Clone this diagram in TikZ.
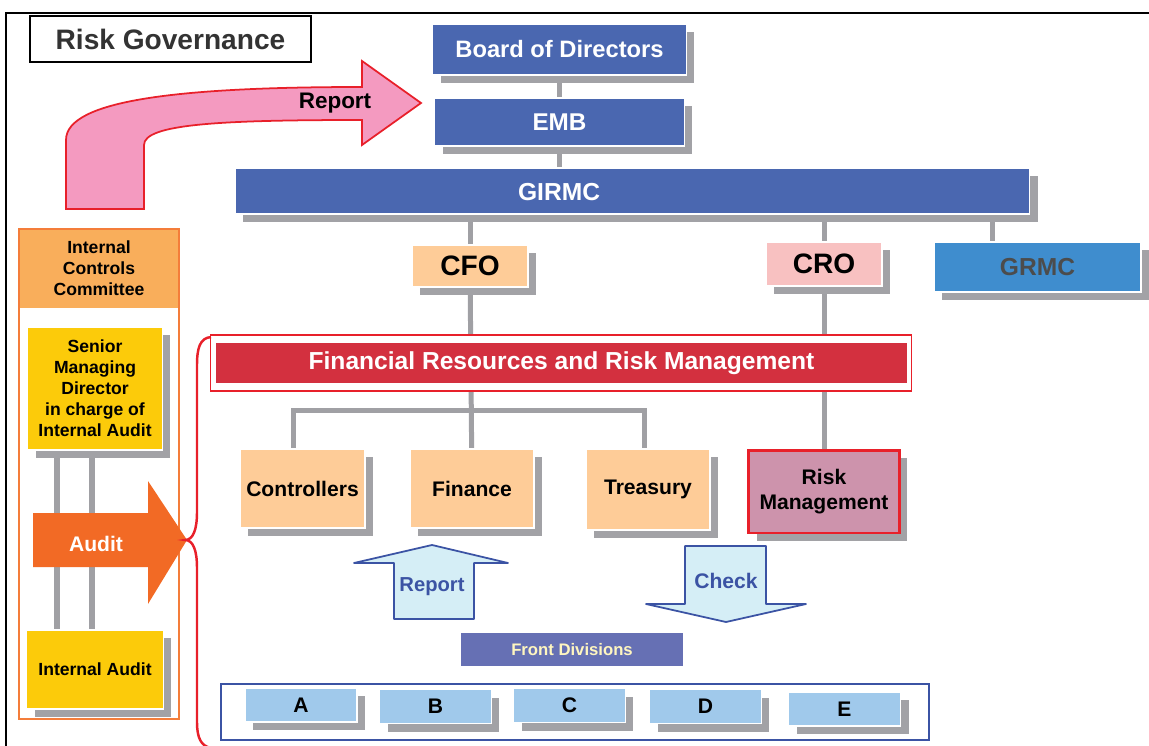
\documentclass[tikz,border=0pt]{standalone}
\usepackage{fontspec}
\setmainfont{Liberation Sans}
\usepackage{xcolor}
\usepackage{tikz}
\usetikzlibrary{shadows}
\definecolor{boardcolor}{HTML}{4A67B0}
\definecolor{shadowgray}{HTML}{A2A2A6}
\definecolor{linegray}{HTML}{A0A0A4}
\definecolor{cfocolor}{HTML}{FECC98}
\definecolor{crocolor}{HTML}{F8C1C1}
\definecolor{grmccolor}{HTML}{3F8DCE}
\definecolor{fincolor}{HTML}{D3303F}
\definecolor{riskred}{HTML}{E8202A}
\definecolor{rmcolor}{HTML}{CD93AC}
\definecolor{icccolor}{HTML}{F9AE5B}
\definecolor{iccedge}{HTML}{F47D3A}
\definecolor{auditcolor}{HTML}{FCCB0A}
\definecolor{arrowcolor}{HTML}{F26A25}
\definecolor{reportpink}{HTML}{F49AC0}
\definecolor{flowfill}{HTML}{D5EEF6}
\definecolor{flowblue}{HTML}{3B53A4}
\definecolor{frontcolor}{HTML}{6670B4}
\definecolor{fronttext}{HTML}{FFF6C0}
\definecolor{divcolor}{HTML}{A0C9EB}

\pgfdeclarelayer{bg}
\pgfsetlayers{bg,main}

\tikzset{
  orgbox/.style={rectangle, draw=white, line width=0.6pt, inner sep=0pt, outer sep=0pt, align=center,
    drop shadow={shadow xshift=0.16cm, shadow yshift=-0.16cm, fill=shadowgray, opacity=1}},
  plainbox/.style={rectangle, inner sep=0pt, outer sep=0pt, align=center},
  bluebox/.style={orgbox, fill=boardcolor, text=white},
  unitbox/.style={orgbox, fill=cfocolor, minimum width=2.48cm, minimum height=1.58cm,
    font=\bfseries\fontsize{12}{14}\selectfont},
  leftbox/.style={orgbox, fill=auditcolor, font=\bfseries\fontsize{10}{11.9}\selectfont},
  divbox/.style={orgbox, fill=divcolor, minimum width=2.24cm, minimum height=0.68cm,
    font=\bfseries\fontsize{12}{14}\selectfont},
  conn/.style={draw=linegray, line width=0.1cm},
  flowarrow/.style={fill=flowfill, draw=flowblue, line width=1pt, line join=round},
}

\begin{document}
\begin{tikzpicture}[x=0.02cm, y=-0.02cm]
\useasboundingbox (0,0) rectangle (1149,746);

% frame and title
\draw[line width=1.1pt] (6,746) -- (6,13) -- (1149,13);
\node[plainbox, draw=black, line width=1pt, minimum width=5.62cm, minimum height=0.92cm, text=black!80,
  font=\bfseries\fontsize{16}{19}\selectfont] (title) at (170.5,39) {Risk Governance};

% board, EMB and GIRMC
\node[bluebox, minimum width=5.08cm, minimum height=1.02cm, font=\bfseries\fontsize{13.5}{16}\selectfont] (board) at (559.5,49.5) {Board of Directors};
\node[bluebox, minimum width=5.0cm, minimum height=0.96cm, font=\bfseries\fontsize{13.8}{16}\selectfont] (emb) at (559.5,122) {EMB};
\node[bluebox, minimum width=15.9cm, minimum height=0.92cm,
  label={[text=white, font=\bfseries\fontsize{14}{16}\selectfont, xshift=-1.47cm, yshift=-0.03cm]center:GIRMC}] (girmc) at (632.5,191) {};

% CFO, CRO, GRMC
\node[orgbox, fill=cfocolor, minimum width=2.32cm, minimum height=0.84cm, font=\bfseries\fontsize{16}{19}\selectfont] (cfo) at (470,266) {CFO};
\node[orgbox, fill=crocolor, minimum width=2.32cm, minimum height=0.88cm, font=\bfseries\fontsize{16}{19}\selectfont] (cro) at (824,264) {CRO};
\node[orgbox, fill=grmccolor, text=black!70, minimum width=4.14cm, minimum height=1.0cm, font=\bfseries\fontsize{14}{16}\selectfont] (grmc) at (1037.5,267) {GRMC};

% financial resources band
\node[plainbox, draw=riskred, fill=white, line width=0.6pt, minimum width=14.04cm, minimum height=1.12cm] (finframe) at (561,363) {};
\node[plainbox, fill=fincolor, text=white, minimum width=13.82cm, minimum height=0.8cm,
  font=\bfseries\fontsize{14}{16}\selectfont] (finband) at (561.5,363) {Financial Resources and Risk Management};

% units
\node[unitbox, minimum width=2.5cm] (controllers) at (302.5,488.5) {Controllers};
\node[unitbox] (finance) at (472,488.5) {Finance};
\node[unitbox, minimum height=1.62cm] (treasury) at (648,489.5) {Treasury};
\node[orgbox, fill=rmcolor, draw=riskred, line width=1.7pt, minimum width=3.02cm, minimum height=1.66cm,
  font=\bfseries\fontsize{12}{14}\selectfont] (riskmgmt) at (824,491.5) {Risk\\Management};

% internal controls panel
\node[plainbox, fill=icccolor, minimum width=3.2cm, minimum height=1.58cm,
  font=\bfseries\fontsize{10}{11.9}\selectfont] (icchead) at (99,268.5) {Internal\\Controls\\Committee};
\node[plainbox, draw=iccedge, line width=0.8pt, minimum width=3.2cm, minimum height=9.8cm] (iccpanel) at (99,474) {};
\node[leftbox, minimum width=2.7cm, minimum height=2.46cm] (senior) at (95,388.5) {Senior\\Managing\\Director\\in charge of\\Internal Audit};
\node[leftbox, minimum width=2.74cm, minimum height=1.58cm] (intaudit) at (95,669.5) {Internal Audit};

% front divisions
\node[plainbox, fill=frontcolor, text=fronttext, minimum width=4.44cm, minimum height=0.66cm,
  font=\bfseries\fontsize{9.5}{11}\selectfont] (frontdiv) at (572,649.5) {Front Divisions};
\node[plainbox, draw=flowblue, line width=0.8pt, minimum width=14.16cm, minimum height=1.12cm] (divpanel) at (575,712) {};
\foreach \name/\x/\y in {A/301/705, B/435.5/706.5, C/569.5/705.5, D/705.5/706.5, E/844.5/709}
  \node[divbox] (div\name) at (\x,\y) {\name};

% connectors
\coordinate (grmctap) at ([xshift=-0.91cm]grmc.north);
\coordinate (split) at (472,410);
\begin{pgfonlayer}{bg}
\draw[conn] (board) -- (emb);
\draw[conn] (emb) -- (emb |- girmc);
\draw[conn] (cfo) -- (cfo |- girmc);
\draw[conn] (cro) -- (cro |- girmc);
\draw[conn] (grmctap) -- (grmctap |- girmc);
\draw[conn] (cfo) -- (finance);
\draw[conn] (cro) -- (riskmgmt);
\draw[conn] ([xshift=-0.19cm]controllers.center) |- (split) -| ([xshift=-0.08cm]treasury.center);
\draw[conn, line width=0.12cm] ([xshift=-0.76cm]senior.center) -- ([xshift=-0.76cm]intaudit.center);
\draw[conn, line width=0.12cm] ([xshift=-0.06cm]senior.center) -- ([xshift=-0.06cm]intaudit.center);
\end{pgfonlayer}

% report arrow to the board
\draw[fill=reportpink, draw=riskred, line width=1pt, line join=miter]
  (66,209) -- (66,140) .. controls (66,100) and (180,87) .. (362,87) -- (362,61) -- (421,103)
  -- (362,145) -- (362,120) .. controls (220,120) and (144,124) .. (144,145) -- (144,209) -- cycle;
\node[font=\bfseries\fontsize{12.8}{15}\selectfont] (reportlabel) at (335,103) {Report};

% audit arrow and brace
\fill[arrowcolor] (33,513) -- (148,513) -- (148,481) -- (187,540) -- (148,604) -- (148,567) -- (33,567) -- cycle;
\node[text=white, font=\bfseries\fontsize{12}{14}\selectfont] (auditlabel) at (96,544) {Audit};
\draw[riskred, line width=1.4pt]
  (211,337) .. controls (200,338) and (197,348) .. (197,365) -- (197,512)
  .. controls (197,530) and (193,540) .. (185,540)
  .. controls (193,540) and (197,550) .. (197,568) -- (197,722)
  .. controls (197,738) and (201,746) .. (211,748);

% report and check arrows
\draw[flowarrow] (394,619) -- (394,563) -- (354,563) -- (432,545) -- (508,563) -- (474,563) -- (474,619) -- cycle;
\node[text=flowblue, font=\bfseries\fontsize{11.5}{14}\selectfont] (uplabel) at (432,587) {Report};
\draw[flowarrow] (685,546) -- (766,546) -- (766,604) -- (806,604) -- (726,622) -- (646,604) -- (685,604) -- cycle;
\node[text=flowblue, font=\bfseries\fontsize{12}{14}\selectfont] (downlabel) at (726,581) {Check};
\end{tikzpicture}
\end{document}
